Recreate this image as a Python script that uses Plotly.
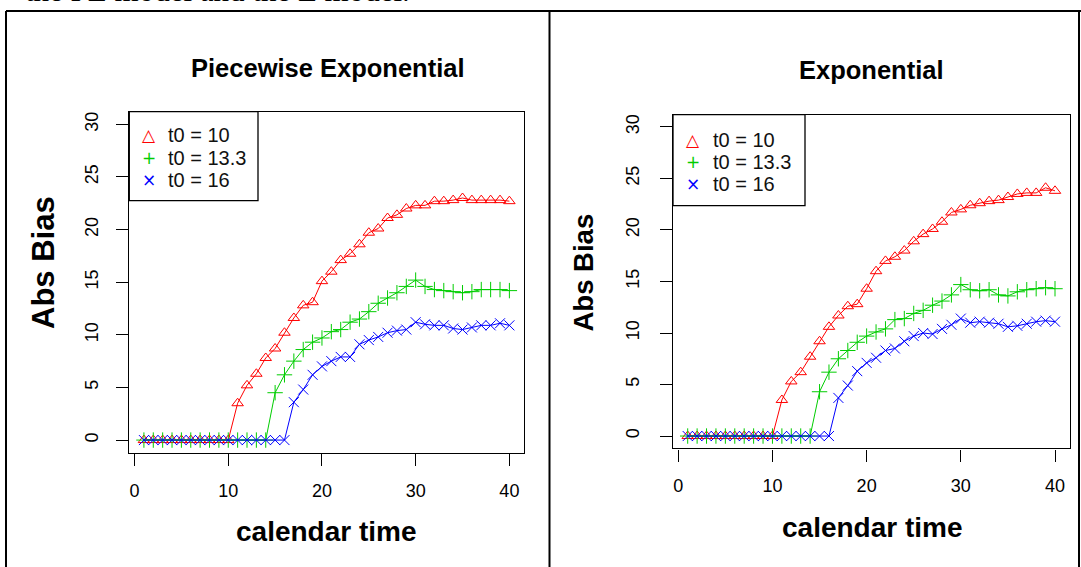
import plotly.graph_objects as go

# ---------------- data ----------------
calendar_time = list(range(1, 41))

# Piecewise Exponential panel
pe_t0_10 = [0]*10 + [3.5, 5.2, 6.3, 7.8, 8.7, 10.2, 11.6, 12.8, 13.1, 15.1,
                     16.0, 17.1, 17.7, 18.6, 19.7, 20.1, 21.1, 21.4, 22.0, 22.3,
                     22.3, 22.7, 22.7, 22.8, 23.0, 22.8, 22.8, 22.8, 22.8, 22.7]
pe_t0_133 = [0]*14 + [4.5, 6.2, 7.5, 8.6, 9.3, 9.7, 10.3, 10.5, 11.2, 11.5,
                      12.2, 13.0, 13.5, 14.0, 14.6, 15.2, 14.6, 14.3, 14.2, 14.1,
                      14.0, 14.1, 14.3, 14.3, 14.3, 14.2]
pe_t0_16 = [0]*16 + [3.6, 4.8, 6.2, 7.0, 7.5, 7.9, 7.9, 9.1, 9.5, 9.8,
                     10.2, 10.4, 10.5, 11.2, 11.0, 10.9, 10.9, 10.6, 10.5, 10.7,
                     10.9, 10.9, 11.1, 10.9]

# Exponential panel
e_t0_10 = [0]*10 + [3.5, 5.3, 6.2, 7.7, 9.2, 10.6, 11.7, 12.6, 12.8, 14.3,
                    16.0, 17.0, 17.4, 18.0, 18.9, 19.6, 20.1, 20.8, 21.7, 22.0,
                    22.4, 22.6, 22.8, 22.9, 23.2, 23.5, 23.6, 23.6, 24.1, 23.8]
e_t0_133 = [0]*14 + [4.3, 6.2, 7.5, 8.3, 9.1, 9.7, 10.1, 10.4, 11.3, 11.4,
                     11.9, 12.2, 12.7, 13.1, 13.7, 14.7, 14.2, 14.1, 14.2, 13.7,
                     13.6, 14.0, 14.2, 14.3, 14.4, 14.3]
e_t0_16 = [0]*16 + [3.7, 4.9, 6.3, 7.1, 7.6, 8.3, 8.5, 9.2, 9.7, 10.0,
                    9.9, 10.4, 10.8, 11.4, 11.0, 11.1, 11.0, 10.9, 10.6, 10.7,
                    10.9, 11.1, 11.2, 11.1]

series_names = ["t0 = 10", "t0 = 13.3", "t0 = 16"]
legend_keys = ["\u25B3", "+", "\u00D7"]
x_ticks = [0, 10, 20, 30, 40]
y_ticks = [0, 5, 10, 15, 20, 25, 30]
panel_titles = ["Piecewise Exponential", "Exponential"]
x_label = "calendar time"
y_label = "Abs Bias"
doc_text = "the PE model and the E model."

# ---------------- styling ----------------
W, H = 1081, 567
FONT = "Liberation Sans, Arial, sans-serif"
KEYFONT = "DejaVu Sans, " + FONT
colors = ["#FF0000", "#00CD00", "#0000FF"]
symbols = ["triangle-up-open", "cross-thin-open", "x-thin-open"]
sizes = [10, 11, 10]
key_sizes = [17, 17, 17]


def px_x(p):
    return p / W


def px_y(p):
    return 1 - p / H


fig = go.Figure()

panels = [
    dict(data=[pe_t0_10, pe_t0_133, pe_t0_16], xa="x", ya="y"),
    dict(data=[e_t0_10, e_t0_133, e_t0_16], xa="x2", ya="y2"),
]

for p in panels:
    for i, ys in enumerate(p["data"]):
        fig.add_trace(go.Scatter(
            x=calendar_time, y=ys, mode="lines+markers", xaxis=p["xa"], yaxis=p["ya"],
            name=series_names[i], showlegend=False,
            line=dict(color=colors[i], width=1),
            marker=dict(symbol=symbols[i], size=sizes[i], color=colors[i],
                        line=dict(color=colors[i], width=1))))

axis_common = dict(
    showgrid=False, zeroline=False, showline=True, mirror=True,
    linecolor="black", linewidth=1.3, ticks="outside", ticklen=12,
    tickcolor="black", tickwidth=1, tickfont=dict(family=FONT, size=18, color="black"),
)

# domains (pixel-based)
L = dict(x0=129.3, x1=524.0, y0=111.7, y1=452.7)
R = dict(x0=673.0, x1=1069.7, y0=114.6, y1=448.4)

fig.update_layout(
    width=W, height=H, margin=dict(l=0, r=0, t=0, b=0),
    paper_bgcolor="white", plot_bgcolor="white",
    font=dict(family=FONT, color="black"),
    showlegend=False,
    xaxis=dict(domain=[px_x(L["x0"]), px_x(L["x1"])], range=[-0.56, 41.56],
               tickvals=x_ticks, anchor="y", ticklabelstandoff=10, **axis_common),
    yaxis=dict(domain=[px_y(L["y1"]), px_y(L["y0"])], range=[-1.2, 31.2],
               tickvals=y_ticks, anchor="x", tickangle=-90, ticklabelstandoff=11, **axis_common),
    xaxis2=dict(domain=[px_x(R["x0"]), px_x(R["x1"])], range=[-0.56, 41.56],
                tickvals=x_ticks, anchor="y2", ticklabelstandoff=9, **axis_common),
    yaxis2=dict(domain=[px_y(R["y1"]), px_y(R["y0"])], range=[-1.2, 31.2],
                tickvals=y_ticks, anchor="x2", tickangle=-90, ticklabelstandoff=14, **axis_common),
)

annotations = [
    # titles
    dict(text="<b>" + panel_titles[0] + "</b>", x=px_x(328), y=px_y(67.5),
         font=dict(size=25.5)),
    dict(text="<b>" + panel_titles[1] + "</b>", x=px_x(871), y=px_y(70),
         font=dict(size=25.5)),
    # x labels
    dict(text="<b>" + x_label + "</b>", x=px_x(326), y=px_y(531), font=dict(size=28)),
    dict(text="<b>" + x_label + "</b>", x=px_x(872), y=px_y(527), font=dict(size=28)),
    # y labels
    dict(text="<b>" + y_label + "</b>", x=px_x(43.5), y=px_y(262.5), font=dict(size=31),
         textangle=-90),
    dict(text="<b>" + y_label + "</b>", x=px_x(583.5), y=px_y(273), font=dict(size=27.5),
         textangle=-90),
    # cut-off document text at top (as in the reference screenshot)
    dict(text=doc_text, x=px_x(23), y=px_y(-9.5), xanchor="left",
         font=dict(family="Liberation Serif, Times New Roman, serif", size=31)),
]

# legends (manual, R style: boxed, marker + text)
legend_specs = [
    dict(box=(L["x0"], L["y0"], 258.0, 200.7), rows=[135.0, 158.3, 180.5],
         key_x=149.3, text_x=166.7),
    dict(box=(R["x0"], R["y0"], 805.0, 205.7), rows=[140.0, 161.7, 184.0],
         key_x=692.7, text_x=711.7),
]
for spec in legend_specs:
    bx0, by0, bx1, by1 = spec["box"]
    fig.add_shape(type="rect", xref="paper", yref="paper",
                  x0=px_x(bx0), y0=px_y(by1), x1=px_x(bx1), y1=px_y(by0),
                  line=dict(color="black", width=1.3), fillcolor="white", layer="above")
    for i, ry in enumerate(spec["rows"]):
        annotations.append(dict(text=legend_keys[i], x=px_x(spec["key_x"]), y=px_y(ry),
                                borderpad=0,
                                font=dict(family=KEYFONT, size=key_sizes[i],
                                          color=colors[i])))
        annotations.append(dict(text=series_names[i], x=px_x(spec["text_x"]), y=px_y(ry),
                                xanchor="left", borderpad=0,
                                font=dict(size=20, color="#111111")))

for a in annotations:
    a.setdefault("xref", "paper")
    a.setdefault("yref", "paper")
    a.setdefault("showarrow", False)
    a.setdefault("xanchor", "center")
    a.setdefault("yanchor", "middle")
    a["font"].setdefault("family", FONT)
    a["font"].setdefault("color", "black")
fig.update_layout(annotations=annotations)

# document table frame
frame = [
    (6, 11, 1081, 11),
    (6, 11, 6, 567),
    (549.5, 11, 549.5, 567),
    (1079, 11, 1079, 567),
]
for x0, y0, x1, y1 in frame:
    fig.add_shape(type="line", xref="paper", yref="paper",
                  x0=px_x(x0), y0=px_y(y0), x1=px_x(x1), y1=px_y(y1),
                  line=dict(color="black", width=2))

fig.write_html("out.html", config={"displayModeBar": False},
               post_script="document.body.style.margin='0';document.body.style.overflow='hidden';")
